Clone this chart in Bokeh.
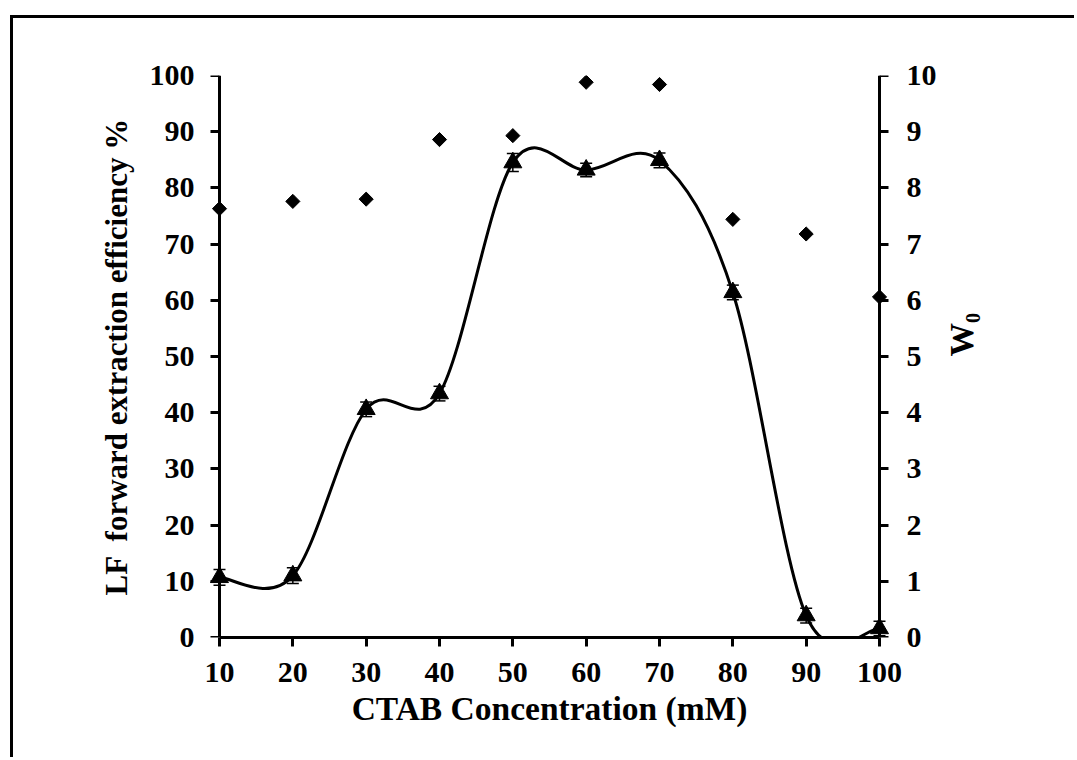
import numpy as np
from bokeh.plotting import figure
from bokeh.models import Range1d, LinearAxis, FixedTicker, ColumnDataSource, Whisker
from bokeh.embed import file_html
from bokeh.resources import INLINE

# ---- data ----
ctab = [10, 20, 30, 40, 50, 60, 70, 80, 90, 100]
efficiency = [10.7, 11.0, 40.6, 43.4, 84.5, 83.2, 84.9, 61.4, 3.9, 1.6]
eff_err = [1.4, 1.4, 1.3, 1.3, 1.6, 1.2, 1.3, 1.3, 1.3, 1.3]
w0 = [7.63, 7.76, 7.80, 8.86, 8.93, 9.88, 9.84, 7.44, 7.18, 6.06]
x_ticks = [10, 20, 30, 40, 50, 60, 70, 80, 90, 100]
y_ticks = [0, 10, 20, 30, 40, 50, 60, 70, 80, 90, 100]
w_ticks = [0, 1, 2, 3, 4, 5, 6, 7, 8, 9, 10]

FONT = "Liberation Serif"

# canvas starts at page (13, 18) because of the CSS margin + border
p = figure(width=1064, height=742, output_backend="svg", toolbar_location=None,
           x_range=Range1d(8.5, 101.5), y_range=Range1d(0, 100),
           min_border_left=195, min_border_right=187, min_border_top=57,
           min_border_bottom=123)
p.styles = {"margin-left": "10px", "margin-top": "15px",
            "border-left": "3px solid black", "border-top": "3px solid black"}
p.extra_y_ranges = {"w": Range1d(0, 10)}
p.outline_line_color = None
p.xgrid.visible = False
p.ygrid.visible = False
p.background_fill_color = "white"
p.border_fill_color = "white"

# smoothed curve (cubic Bezier through the points, Catmull-Rom style)
xs = np.array(ctab, dtype=float)
ys = np.array(efficiency, dtype=float)
n = len(xs)
x0 = xs[:-1]; y0 = ys[:-1]; x1 = xs[1:]; y1 = ys[1:]
xp = np.concatenate([[xs[0]], xs, [xs[-1]]])
yp = np.concatenate([[ys[0]], ys, [ys[-1]]])
cx0 = xs[:-1] + (xp[2:n+1] - xp[0:n-1]) / 6.0
cy0 = ys[:-1] + (yp[2:n+1] - yp[0:n-1]) / 6.0
cx1 = xs[1:] - (xp[3:n+2] - xp[1:n]) / 6.0
cy1 = ys[1:] - (yp[3:n+2] - yp[1:n]) / 6.0
p.bezier(x0=x0, y0=y0, x1=x1, y1=y1, cx0=cx0, cy0=cy0, cx1=cx1, cy1=cy1,
         line_color="black", line_width=3)

src = ColumnDataSource(dict(x=ctab, y=efficiency,
                            up=[v + e for v, e in zip(efficiency, eff_err)],
                            lo=[v - e for v, e in zip(efficiency, eff_err)]))
wh = Whisker(source=src, base="x", upper="up", lower="lo", line_color="black",
             line_width=1.5)
wh.upper_head.size = 12
wh.lower_head.size = 12
wh.upper_head.line_width = 1.5
wh.lower_head.line_width = 1.5
p.add_layout(wh)

p.scatter(x="x", y="y", source=src, marker="triangle", size=18,
          fill_color="black", line_color="black")
p.scatter(ctab, w0, y_range_name="w", marker="square", angle=np.pi / 4,
          size=10, fill_color="black", line_color="black")

xaxis = p.xaxis[0]
yaxis = p.yaxis[0]
raxis = LinearAxis(y_range_name="w")
p.add_layout(raxis, "right")
# axis lines + ticks drawn at the data positions x=10 and x=100
yline = LinearAxis(fixed_location=10)
rline = LinearAxis(y_range_name="w", fixed_location=100)
p.add_layout(yline, "left")
p.add_layout(rline, "right")

for ax in [xaxis, yaxis, raxis, yline, rline]:
    ax.axis_line_width = 3
    ax.axis_line_color = "black"
    ax.major_tick_line_width = 3
    ax.major_tick_out = 9
    ax.major_tick_in = 0
    ax.minor_tick_line_color = None
    ax.major_label_text_font = FONT
    ax.major_label_text_font_style = "bold"
    ax.major_label_text_font_size = "30px"
    ax.major_label_text_color = "black"
    ax.axis_label_text_font = FONT
    ax.axis_label_text_font_style = "bold"
    ax.axis_label_text_font_size = "33.5px"
    ax.axis_label_text_color = "black"
yaxis.axis_label_text_font_size = "31px"

for ax in [yaxis, raxis]:
    ax.axis_line_color = None
    ax.major_tick_line_color = None
    ax.major_tick_out = 0
for ax in [yline, rline]:
    ax.major_label_text_font_size = "0px"
    ax.major_label_text_color = None
    ax.major_label_standoff = 0

xaxis.ticker = FixedTicker(ticks=x_ticks)
yaxis.ticker = FixedTicker(ticks=y_ticks)
yline.ticker = FixedTicker(ticks=y_ticks)
raxis.ticker = FixedTicker(ticks=w_ticks)
rline.ticker = FixedTicker(ticks=w_ticks)
xaxis.bounds = (10, 100)

xaxis.axis_label = "CTAB Concentration (mM)"
yaxis.axis_label = "LF \u00a0forward extraction efficiency %"
raxis.axis_label = "W\u2080"
raxis.axis_label_orientation = np.pi / 2

xaxis.major_label_standoff = 16
xaxis.axis_label_standoff = 5
yaxis.major_label_standoff = 14
yaxis.axis_label_standoff = 13
raxis.major_label_standoff = 16
raxis.axis_label_standoff = 22

open("out.html", "w").write(file_html(p, INLINE))
